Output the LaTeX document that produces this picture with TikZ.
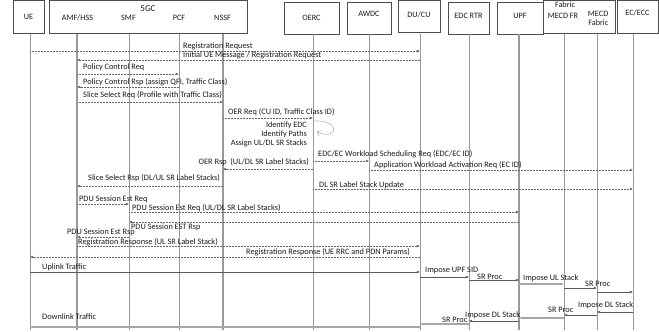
\documentclass[tikz,border=0pt]{standalone}
\usepackage{fontspec}
\setmainfont{Carlito}
\tikzset{box/.style = {draw=black!70, line width=0.6pt, inner sep=0pt, text=black!90,
                       font=\fontsize{8.2}{8.7}\selectfont},
         life/.style = {draw=black!40, line width=0.55pt},
         msg/.style = {draw=black!60, dash pattern=on 0.6pt off 0.9pt, line width=0.45pt,
                       -{Latex[length=3.2pt,width=2.8pt]}},
         flow/.style = {draw=black!65, line width=0.5pt, -{Latex[length=3.2pt,width=2.8pt]}},
         flowl/.style = {flow, draw=black!35, line width=1.1pt},
         lbl/.style = {font=\fontsize{8.3}{8.7}\selectfont, text=black!90, inner sep=0pt,
                       text height=5.5pt, text depth=1.5pt, anchor=west},
         hdr/.style = {font=\fontsize{8.2}{8.7}\selectfont, text=black!90, inner sep=0pt}}
\usetikzlibrary{arrows.meta}

\begin{document}
\begin{tikzpicture}[x=1pt, y=-1pt]
  \useasboundingbox (0,0) rectangle (659,332);

  % boxes
  \node[box, minimum width=31, minimum height=32.5] (b-ue) at (28.5,16.75) {UE};
  \node[box, minimum width=198, minimum height=32.5] (b-5gc) at (148,16.75) {};
  \node[box, minimum width=55, minimum height=32] (b-oerc) at (311.5,18) {OERC};
  \node[box, minimum width=44, minimum height=32, text depth=8pt] (b-awdc) at (369,18) {AWDC};
  \node[box, minimum width=42, minimum height=31.5, text depth=4pt] (b-du) at (419,16.25) {DU/CU};
  \node[box, minimum width=41, minimum height=32, text depth=4pt] (b-edc) at (468.5,18) {EDC RTR};
  \node[box, minimum width=46, minimum height=32, text depth=4pt] (b-upf) at (520,18) {UPF};
  \node[box, minimum width=72, minimum height=32.5] (b-fab) at (579,16.75) {};
  \node[box, minimum width=41, minimum height=32.5, text depth=9pt] (b-ec) at (637.5,16.75) {EC/ECC};

  \node[hdr, font=\fontsize{9}{9}\selectfont] (t-5gc) at (148,9) {5GC};
  \node[hdr] (t-amf) at (77.5,18) {AMF/HSS};
  \node[hdr] (t-smf) at (128.5,18) {SMF};
  \node[hdr] (t-pcf) at (179,18) {PCF};
  \node[hdr] (t-nssf) at (222.5,18) {NSSF};
  \node[hdr] (t-fab) at (565,4.5) {Fabric};
  \node[hdr] (t-mecdfr) at (563,16) {MECD FR};
  \node[hdr, align=right, anchor=east] (t-mecdfab) at (608.5,18.5) {MECD\\Fabric};

  % lifelines
  \foreach \n/\x/\w in {ue/30/0.55, amf/77/1.1, smf/129/0.55, pcf/179/0.55, nssf/223/1.1,
                        oerc/313/0.55, awdc/369/0.55, du/420/0.55, edc/469/0.55, upf/519/1.1,
                        mecdfr/564/0.55, mecdfab/597/0.55, ec/633/0.55} {
    \coordinate (\n) at (\x,33.5);
    \draw[life, line width=\w pt] (\n) -- (\x,330);
  }

  % signalling
  \draw[msg] (ue |- 0,51) -- (du |- 0,51);
  \node[lbl] (m-regreq) at (183,46) {Registration Request};
  \draw[msg] (du |- 0,60) -- (amf |- 0,60);
  \node[lbl] (m-initue) at (183,55) {Initial UE Message / Registration Request};
  \draw[msg] (amf |- 0,74) -- (pcf |- 0,74);
  \node[lbl] (m-pcreq) at (83,67) {Policy Control Req};
  \draw[msg] (pcf |- 0,87) -- (amf |- 0,87);
  \node[lbl] (m-pcrsp) at (83,82) {Policy Control Rsp (assign QFI, Traffic Class)};
  \draw[msg] (amf |- 0,102) -- (nssf |- 0,102);
  \node[lbl] (m-ssreq) at (83,95) {Slice Select Req (Profile with Traffic Class)};
  \draw[msg] (nssf |- 0,118) -- (oerc |- 0,118);
  \node[lbl] (m-oerreq) at (228,112) {OER Req (CU ID, Traffic Class ID)};

  \draw[draw=black!40, line width=0.4pt, -{Straight Barb[length=3pt]}]
    (oerc |- 0,121) .. controls (341,119) and (339,141) .. (317,132);
  \node[hdr, align=right, anchor=east] (m-ident) at (307,134.5)
    {Identify EDC\\Identify Paths\\Assign UL/DL SR Stacks};

  \draw[msg] (oerc |- 0,161) -- (awdc |- 0,161);
  \node[lbl] (m-wsreq) at (318,154) {EDC/EC Workload Scheduling Req (EDC/EC ID)};
  \draw[msg] (oerc |- 0,169) -- (nssf |- 0,169);
  \node[lbl, anchor=east] (m-oerrsp) at (309,162) {OER Rsp\ \ (UL/DL SR Label Stacks)};
  \draw[msg] (awdc |- 0,170) -- (ec |- 0,170);
  \node[lbl] (m-awreq) at (374,165) {Application Workload Activation Req (EC ID)};
  \draw[msg] (nssf |- 0,186) -- (amf |- 0,186);
  \node[lbl] (m-ssrsp) at (88,178) {Slice Select Rsp (DL/UL SR Label Stacks)};
  \draw[msg] (oerc |- 0,189) -- (ec |- 0,189);
  \node[lbl] (m-dlupd) at (319,185) {DL SR Label Stack Update};
  \draw[msg] (amf |- 0,204) -- (smf |- 0,204);
  \node[lbl] (m-pdureq) at (79,199) {PDU Session Est Req};
  \draw[msg] (smf |- 0,212) -- (upf |- 0,212);
  \node[lbl] (m-pdureq2) at (132,208) {PDU Session Est Req (UL/DL SR Label Stacks)};
  \draw[msg] (upf |- 0,222) -- (smf |- 0,222);
  \node[lbl] (m-pdursp2) at (131,227) {PDU Session EST Rsp};
  \draw[msg] (smf |- 0,237) -- (amf |- 0,237);
  \node[lbl] (m-pdursp) at (67,232) {PDU Session Est Rsp};
  \draw[msg] (amf |- 0,246) -- (du |- 0,246);
  \node[lbl] (m-regrsp) at (78,242) {Registration Response (UL SR Label Stack)};
  \draw[msg] (du |- 0,257) -- (ue |- 0,257);
  \node[lbl, anchor=east] (m-regrsp2) at (410,252) {Registration Response (UE RRC and PDN Params)};

  % uplink
  \draw[flow] (ue |- 0,272) -- (du |- 0,272);
  \node[lbl] (u-traffic) at (42,267) {Uplink Traffic};
  \draw[flow] (du |- 0,277) -- (edc |- 0,277);
  \node[lbl] (u-upfsid) at (425,270) {Impose UPF SID};
  \draw[flow] (edc |- 0,280) -- (upf |- 0,280);
  \node[lbl] (u-srproc1) at (477,277) {SR Proc};
  \draw[flowl] (upf |- 0,284) -- (mecdfr |- 0,284);
  \node[lbl] (u-ulstack) at (523,278) {Impose UL Stack};
  \draw[flow] (mecdfr |- 0,288) -- (mecdfab |- 0,288);
  \node[lbl] (u-srproc2) at (585,284) {SR Proc};
  \draw[flow] (mecdfab |- 0,292) -- (ec |- 0,292);

  % downlink
  \draw[flow] (ec |- 0,312) -- (mecdfab |- 0,312);
  \node[lbl] (d-dlstack1) at (578,305) {Impose DL Stack};
  \draw[flow] (mecdfab |- 0,315) -- (mecdfr |- 0,315);
  \node[lbl] (d-srproc1) at (548,310) {SR Proc};
  \draw[flowl] (mecdfr |- 0,318) -- (upf |- 0,318);
  \draw[flow] (upf |- 0,321) -- (edc |- 0,321);
  \node[lbl] (d-dlstack2) at (465,315) {Impose DL Stack};
  \draw[flowl] (edc |- 0,324) -- (du |- 0,324);
  \node[lbl] (d-srproc2) at (442,320) {SR Proc};
  \draw[flowl] (du |- 0,327) -- (ue |- 0,327);
  \node[lbl] (d-traffic) at (42,317) {Downlink Traffic};
\end{tikzpicture}
\end{document}
